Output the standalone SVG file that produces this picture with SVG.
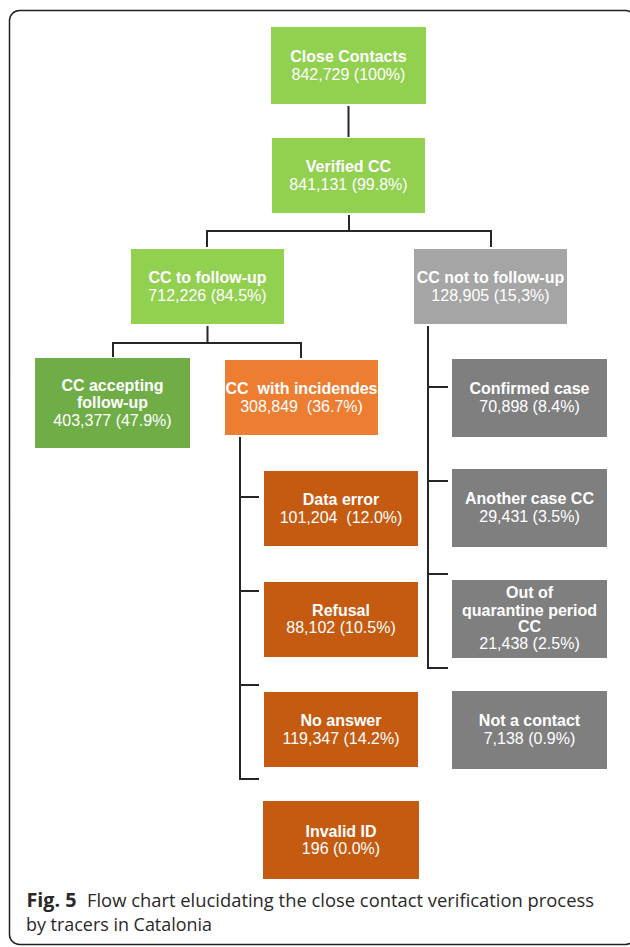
<svg xmlns="http://www.w3.org/2000/svg" width="630" height="947" viewBox="0 0 630 947">
<style>
.t{font-family:"Liberation Sans",Arial,sans-serif;font-size:16px;fill:#ffffff;text-anchor:middle}
.b{font-weight:bold}
.lg{fill:#92d050}.ag{fill:#70ad47}.or{fill:#ed7d31}.do{fill:#c55a11}.lgr{fill:#a5a5a5}.dg{fill:#7f7f7f}
.con{fill:none;stroke:#262626;stroke-width:2}
.cap{font-family:"Open Sans","Noto Sans",sans-serif;font-size:19px;fill:#2b2829}
</style>
<rect x="9.5" y="10.5" width="626" height="934" rx="10" fill="none" stroke="#231f20" stroke-width="1.5"/>
<g id="connectors">
<path class="con" d="M348.5 106V137"/>
<path class="con" d="M349 215V231M207 247V231H491V247"/>
<path class="con" d="M207.5 326V343M113 357V343H301V358"/>
<path class="con" d="M240 437V779H259M240 497H259M240 591H259M240 685H259"/>
<path class="con" d="M428 326V668H448M428 387H448M428 481H448M428 574H448"/>
</g>
<g id="close-contacts"><rect class="lg" x="271" y="27" width="155" height="77"/>
<text class="t b" x="348.5" y="62">Close Contacts</text><text class="t" x="348.5" y="80">842,729 (100%)</text></g>
<g id="verified-cc"><rect class="lg" x="272" y="138" width="153" height="75"/>
<text class="t b" x="348.5" y="172">Verified CC</text><text class="t" x="348.5" y="190">841,131 (99.8%)</text></g>
<g id="cc-to-follow-up"><rect class="lg" x="131" y="249" width="153" height="75"/>
<text class="t b" x="207.5" y="283">CC to follow-up</text><text class="t" x="207.5" y="301">712,226 (84.5%)</text></g>
<g id="cc-not-to-follow-up"><rect class="lgr" x="414" y="249" width="153" height="75"/>
<text class="t b" x="490.5" y="283">CC not to follow-up</text><text class="t" x="490.5" y="301">128,905 (15,3%)</text></g>
<g id="cc-accepting"><rect class="ag" x="35" y="358" width="155" height="90"/>
<text class="t b" x="112.5" y="391">CC accepting</text><text class="t b" x="112.5" y="408">follow-up</text><text class="t" x="112.5" y="425.5">403,377 (47.9%)</text></g>
<g id="cc-with-incidendes"><rect class="or" x="225" y="360" width="153" height="75"/>
<text class="t b" x="301.5" y="393.5" xml:space="preserve">CC  with incidendes</text><text class="t" x="301.5" y="411.5" xml:space="preserve">308,849  (36.7%)</text></g>
<g id="data-error"><rect class="do" x="264" y="471" width="154" height="75"/>
<text class="t b" x="341" y="504.5">Data error</text><text class="t" x="341" y="522.5" xml:space="preserve">101,204  (12.0%)</text></g>
<g id="refusal"><rect class="do" x="264" y="582" width="154" height="75"/>
<text class="t b" x="341" y="615.5">Refusal</text><text class="t" x="341" y="633">88,102 (10.5%)</text></g>
<g id="no-answer"><rect class="do" x="264" y="692" width="154" height="75"/>
<text class="t b" x="341" y="725.5">No answer</text><text class="t" x="341" y="743.5">119,347 (14.2%)</text></g>
<g id="invalid-id"><rect class="do" x="263" y="801" width="156" height="78"/>
<text class="t b" x="341" y="836.5">Invalid ID</text><text class="t" x="341" y="854">196 (0.0%)</text></g>
<g id="confirmed-case"><rect class="dg" x="452" y="359" width="155" height="78"/>
<text class="t b" x="529.5" y="394">Confirmed case</text><text class="t" x="529.5" y="411.5">70,898 (8.4%)</text></g>
<g id="another-case-cc"><rect class="dg" x="452" y="469" width="155" height="78"/>
<text class="t b" x="529.5" y="504">Another case CC</text><text class="t" x="529.5" y="521.5">29,431 (3.5%)</text></g>
<g id="out-of-quarantine"><rect class="dg" x="452" y="580" width="155" height="78"/>
<text class="t b" x="529.5" y="598">Out of</text><text class="t b" x="529.5" y="615.5">quarantine period</text><text class="t b" x="529.5" y="632">CC</text><text class="t" x="529.5" y="649">21,438 (2.5%)</text></g>
<g id="not-a-contact"><rect class="dg" x="452" y="691" width="155" height="78"/>
<text class="t b" x="529.5" y="726">Not a contact</text><text class="t" x="529.5" y="743.5">7,138 (0.9%)</text></g>
<g id="caption">
<text class="cap" x="26.5" y="906.5" font-weight="bold" textLength="50" lengthAdjust="spacingAndGlyphs">Fig. 5</text>
<text class="cap" x="87" y="906.5" textLength="507" lengthAdjust="spacingAndGlyphs">Flow chart elucidating the close contact verification process</text>
<text class="cap" x="26" y="931" textLength="186" lengthAdjust="spacingAndGlyphs">by tracers in Catalonia</text>
</g>
</svg>
